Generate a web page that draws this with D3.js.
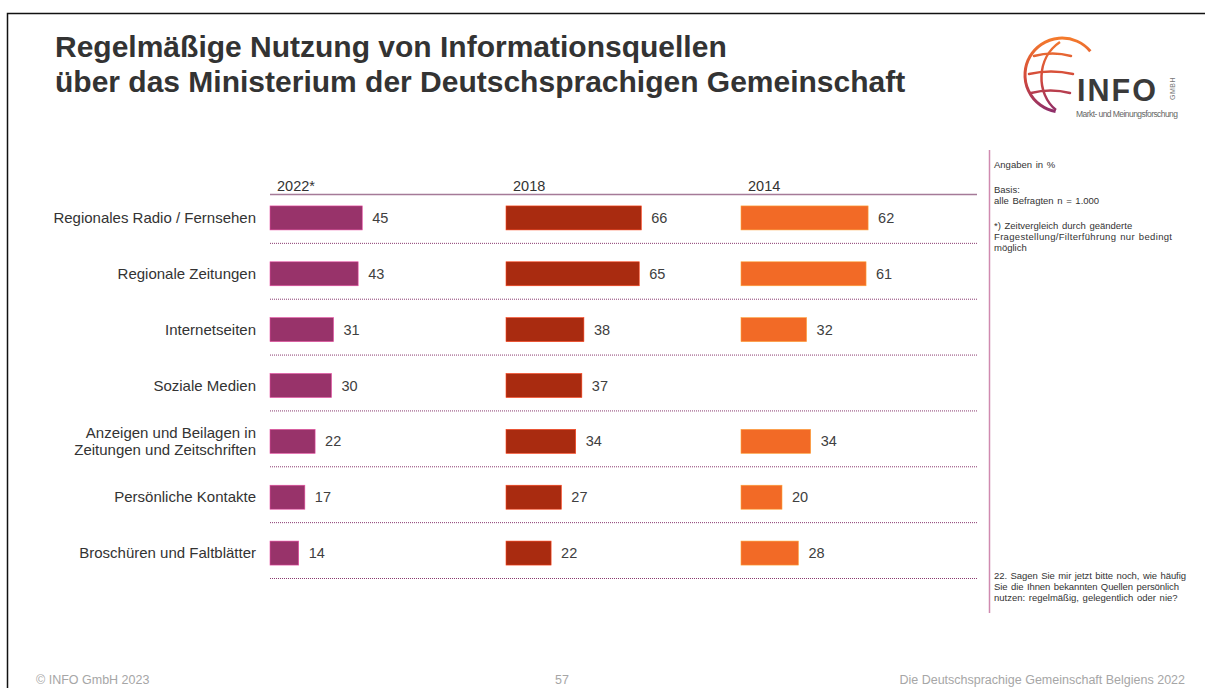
<!DOCTYPE html>
<html>
<head>
<meta charset="utf-8">
<script src="https://cdn.jsdelivr.net/npm/d3@7"></script>
<style>
  body { margin: 0; background: #fff; }
  svg { display: block; font-family: "Liberation Sans", Arial, sans-serif; }
</style>
</head>
<body>
<svg width="1205" height="688"></svg>
<script>
var categories = [
	['Regionales Radio / Fernsehen'],
	['Regionale Zeitungen'],
	['Internetseiten'],
	['Soziale Medien'],
	['Anzeigen und Beilagen in', 'Zeitungen und Zeitschriften'],
	['Persönliche Kontakte'],
	['Broschüren und Faltblätter']
];
var years = ['2022*', '2018', '2014'];
var values2022 = [45, 43, 31, 30, 22, 17, 14];
var values2018 = [66, 65, 38, 37, 34, 27, 22];
var values2014 = [62, 61, 32, null, 34, 20, 28];
var colors = ['#98336a', '#a92b10', '#f26a26'];

var series = [values2022, values2018, values2014];

var svg = d3.select('svg');

// rahmen
svg.append('rect')
	.attr('x', 7.5).attr('y', 13.5)
	.attr('width', 1300).attr('height', 800)
	.attr('fill', 'none').attr('stroke', '#111').attr('stroke-width', 1.5);

// titel
var title = svg.append('text')
	.attr('x', 55).attr('y', 57)
	.attr('font-size', 30).attr('font-weight', 'bold').attr('fill', '#333');
title.append('tspan').attr('x', 55).text('Regelmäßige Nutzung von Informationsquellen');
title.append('tspan').attr('x', 55).attr('dy', 35).text('über das Ministerium der Deutschsprachigen Gemeinschaft');

// logo
var defs = svg.append('defs');
var grad = defs.append('linearGradient')
	.attr('id', 'globe').attr('gradientUnits', 'userSpaceOnUse')
	.attr('x1', 0).attr('y1', 38).attr('x2', 0).attr('y2', 112);
grad.append('stop').attr('offset', '0%').attr('stop-color', '#f47a2c');
grad.append('stop').attr('offset', '55%').attr('stop-color', '#d2483c');
grad.append('stop').attr('offset', '100%').attr('stop-color', '#8e2e6a');
var cx = 1062, cy = 75, r = 37;
var a0 = -40 * Math.PI / 180, a1 = 100 * Math.PI / 180;
svg.append('path')
	.attr('d', 'M ' + (cx + r * Math.cos(a0)) + ' ' + (cy + r * Math.sin(a0)) +
		' A ' + r + ' ' + r + ' 0 1 0 ' + (cx + r * Math.cos(a1)) + ' ' + (cy + r * Math.sin(a1)))
	.attr('fill', 'none').attr('stroke', 'url(#globe)').attr('stroke-width', 3);
svg.append('path')
	.attr('d', 'M 1060 42 C 1036 58 1036 94 1056 110')
	.attr('fill', 'none').attr('stroke', 'url(#globe)').attr('stroke-width', 2.5);
[[55, 1034, 1071], [73, 1029, 1073], [92, 1031, 1070]].forEach(function (d) {
	svg.append('path')
		.attr('d', 'M ' + d[1] + ' ' + (d[0] + 1) + ' Q ' + ((d[1] + d[2]) / 2) + ' ' + (d[0] - 4) + ' ' + d[2] + ' ' + (d[0] + 1))
		.attr('fill', 'none').attr('stroke', 'url(#globe)').attr('stroke-width', 2.5)
		.attr('stroke-linecap', 'round');
});
svg.append('text').attr('x', 1077).attr('y', 101)
	.attr('font-size', 30.5).attr('font-weight', 'bold').attr('fill', '#3a3a3a')
	.attr('letter-spacing', 2).text('INFO');
svg.append('text')
	.attr('transform', 'translate(1175,100) rotate(-90)')
	.attr('font-size', 7).attr('fill', '#777').attr('letter-spacing', 0.5).text('GMBH');
svg.append('text').attr('x', 1076).attr('y', 117)
	.attr('font-size', 8.5).attr('fill', '#666').attr('textLength', 102).text('Markt- und Meinungsforschung');

// skalen
var colX = [270, 506, 741];
var x = d3.scaleLinear().domain([0, 100]).range([0, 205]);
var y = d3.scaleBand().domain(d3.range(categories.length)).range([190, 581]).padding(0);
var barH = 24;

// kopflinie und jahreszahlen
svg.append('line')
	.attr('x1', 270).attr('x2', 977).attr('y1', 194.5).attr('y2', 194.5)
	.attr('stroke', '#a57a98').attr('stroke-width', 1.5);
svg.selectAll('text.year')
	.data(years)
	.enter()
	.append('text')
	.attr('class', 'year')
	.attr('x', function (d, i) { return colX[i] + 7; })
	.attr('y', 191)
	.attr('font-size', 14.5).attr('fill', '#333')
	.text(function (d) { return d; });

// trennlinien
svg.selectAll('line.sep')
	.data(d3.range(categories.length))
	.enter()
	.append('line')
	.attr('class', 'sep')
	.attr('x1', 270).attr('x2', 977)
	.attr('y1', function (d) { return y(d) + y.bandwidth() - 2.5; })
	.attr('y2', function (d) { return y(d) + y.bandwidth() - 2.5; })
	.attr('stroke', '#8a3a70').attr('stroke-width', 1)
	.attr('stroke-dasharray', '1,1');

// kategorien
var labels = svg.selectAll('text.cat')
	.data(categories)
	.enter()
	.append('text')
	.attr('class', 'cat')
	.attr('text-anchor', 'end')
	.attr('font-size', 15).attr('fill', '#333')
	.attr('y', function (d, i) {
		return y(i) + y.bandwidth() / 2 + 5 - (d.length - 1) * 8.5;
	});
labels.selectAll('tspan')
	.data(function (d) { return d; })
	.enter()
	.append('tspan')
	.attr('x', 256)
	.attr('dy', function (d, i) { return i === 0 ? 0 : 17; })
	.text(function (d) { return d; });

// balken
series.forEach(function (vals, s) {
	var g = svg.append('g').attr('transform', 'translate(' + colX[s] + ',0)');
	var rows = vals.map(function (v, i) { return { v: v, i: i }; })
		.filter(function (d) { return d.v !== null; });
	g.selectAll('rect')
		.data(rows)
		.enter()
		.append('rect')
		.attr('x', 0)
		.attr('y', function (d) { return y(d.i) + y.bandwidth() / 2 - barH / 2; })
		.attr('width', function (d) { return x(d.v); })
		.attr('height', barH)
		.attr('fill', colors[s])
		.attr('stroke', d3.color(colors[s]).brighter(1.2))
		.attr('stroke-width', 0.6);
	g.selectAll('text')
		.data(rows)
		.enter()
		.append('text')
		.attr('x', function (d) { return x(d.v) + 10; })
		.attr('y', function (d) { return y(d.i) + y.bandwidth() / 2 + 5; })
		.attr('font-size', 14.5).attr('fill', '#404040')
		.text(function (d) { return d.v; });
});

// rechte spalte
svg.append('line')
	.attr('x1', 989.5).attr('x2', 989.5).attr('y1', 150).attr('y2', 613)
	.attr('stroke', '#d08ab0').attr('stroke-width', 1.5);

// [text, y, blocksatz-breite]
var notes = [
	['Angaben in %', 168, 0],
	['Basis:', 193, 0],
	['alle Befragten  n = 1.000', 204, 0],
	['*) Zeitvergleich durch geänderte', 229, 0],
	['Fragestellung/Filterführung nur bedingt', 240, 178],
	['möglich', 251, 0],
	['22. Sagen Sie mir jetzt bitte noch, wie häufig', 579, 192],
	['Sie die Ihnen bekannten Quellen persönlich', 590, 185],
	['nutzen: regelmäßig, gelegentlich oder nie?', 601, 0]
];
svg.selectAll('text.note')
	.data(notes)
	.enter()
	.append('text')
	.attr('class', 'note')
	.attr('x', 994)
	.attr('y', function (d) { return d[1]; })
	.attr('font-size', 9.5).attr('fill', '#333')
	.attr('word-spacing', 1)
	.each(function (d) {
		if (d[2]) d3.select(this).attr('textLength', d[2]).attr('lengthAdjust', 'spacing');
	})
	.text(function (d) { return d[0]; });

// fusszeile
svg.append('text').attr('x', 36).attr('y', 684)
	.attr('font-size', 12.5).attr('fill', '#a6a6a6').text('© INFO GmbH 2023');
svg.append('text').attr('x', 562).attr('y', 684).attr('text-anchor', 'middle')
	.attr('font-size', 12.5).attr('fill', '#a6a6a6').text('57');
svg.append('text').attr('x', 1185).attr('y', 684).attr('text-anchor', 'end')
	.attr('font-size', 12.5).attr('fill', '#a6a6a6').text('Die Deutschsprachige Gemeinschaft Belgiens 2022');
</script>
</body>
</html>
